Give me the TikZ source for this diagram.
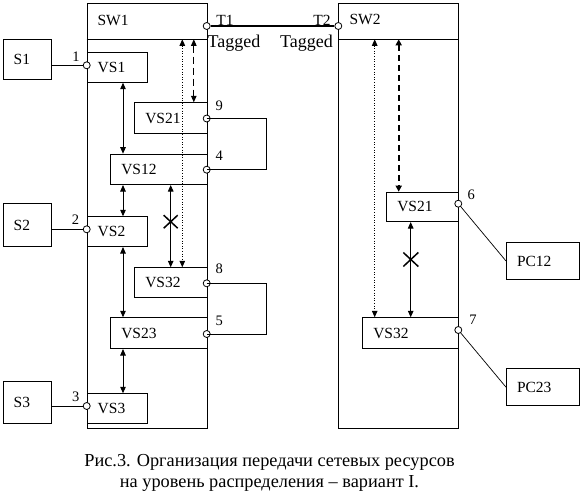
\documentclass[tikz,border=0pt]{standalone}
\usepackage{fontspec}
\setmainfont{Liberation Serif}
\usetikzlibrary{arrows.meta,calc}
\begin{document}
\begin{tikzpicture}[x=1pt,y=-1pt,
  every node/.style={font=\fontsize{15.5}{18}\selectfont},
  box/.style={draw, line width=1pt, fill=white, anchor=north west, inner xsep=10.5pt, inner ysep=0pt, align=left},
  frame/.style={draw, line width=1pt, anchor=north west, inner sep=0pt},
  port/.style={circle, draw, line width=0.8pt, fill=white, inner sep=0pt, minimum size=7pt},
  num/.style={inner sep=0pt, font=\fontsize{14.5}{16}\selectfont},
  wire/.style={line width=1pt},
  tip/.style={{Triangle[width=5.5pt,length=6.5pt]}-{Triangle[width=5.5pt,length=6.5pt]}},
  link/.style={wire, tip},
  dotlink/.style={line width=1pt, dash pattern=on 1pt off 1.6pt, tip},
  dashlink/.style={line width=1pt, dash pattern=on 7pt off 4pt, tip},
  thickdash/.style={line width=2pt, dash pattern=on 6pt off 4pt, {Triangle[width=6pt,length=6pt]}-{Triangle[width=6pt,length=6pt]}},
  cross/.style={line width=1.5pt}
]
\useasboundingbox (0,0) rectangle (581,496);

% switches
\node[frame, minimum width=120pt, minimum height=424.7pt] (sw1) at (86.7,3.3) {};
\node[frame, minimum width=120pt, minimum height=425pt] (sw2) at (338.3,3.3) {};
\coordinate (h1) at (86.7,39.3);
\coordinate (h2) at (338.3,39.3);
\draw[wire] (h1) -- (h1 -| sw1.east);
\draw[wire] (h2) -- (h2 -| sw2.east);
\node[inner sep=0pt] (sw1lab) at (113,20.5) {SW1};
\node[inner sep=0pt] (sw2lab) at (365,19.5) {SW2};

% servers and PCs
\node[box, text width=27pt, minimum height=39.7pt] (s1) at (2.7,39.3) {S1};
\node[box, text width=27pt, minimum height=42.7pt] (s2) at (2.7,203.3) {S2};
\node[box, text width=27pt, minimum height=42.6pt] (s3) at (2.7,380.7) {S3};
\node[box, text width=51.7pt, minimum height=37.6pt] (pc12) at (506,241.7) {PC12};
\node[box, text width=51.7pt, minimum height=36.7pt] (pc23) at (506,368.3) {PC23};

% VLAN blocks in SW1
\node[box, text width=39pt, minimum height=29.4pt] (vs1) at (86.7,52.3) {VS1};
\node[box, text width=51.4pt, minimum height=31pt] (vs21a) at (134.3,102.3) {VS21};
\node[box, text width=75.4pt, minimum height=30.3pt] (vs12) at (110.3,153.7) {VS12};
\node[box, text width=39pt, minimum height=29.7pt] (vs2) at (86.7,216.3) {VS2};
\node[box, text width=51.4pt, minimum height=30pt] (vs32a) at (134.3,267.3) {VS32};
\node[box, text width=75.4pt, minimum height=30.7pt] (vs23) at (110.3,317.3) {VS23};
\node[box, text width=39pt, minimum height=30pt] (vs3) at (86.7,393.3) {VS3};

% VLAN blocks in SW2
\node[box, text width=51pt, minimum height=29.3pt] (vs21b) at (386.3,191.7) {VS21};
\node[box, text width=75pt, minimum height=31pt] (vs32b) at (362.3,317.3) {VS32};

% columns for vertical links
\coordinate (cA) at (123,0);
\coordinate (cX) at (170.7,0);
\coordinate (cDot) at (182.3,0);
\coordinate (cDash) at (193.8,0);
\coordinate (dDot) at (374.7,0);
\coordinate (dDash) at (398.7,0);
\coordinate (dX) at (410.7,0);

\draw[link] (cA |- vs1.south) -- (cA |- vs12.north);
\draw[link] (cA |- vs12.south) -- (cA |- vs2.north);
\draw[link] (cA |- vs2.south) -- (cA |- vs23.north);
\draw[link] (cA |- vs23.south) -- (cA |- vs3.north);
\draw[link] (cX |- vs12.south) -- (cX |- vs32a.north);
\draw[dotlink] (cDot |- h1) -- (cDot |- vs32a.north);
\draw[dashlink] (cDash |- h1) -- (cDash |- vs21a.north);

\draw[dotlink] (dDot |- h2) -- (dDot |- vs32b.north);
\draw[thickdash] (dDash |- h2) -- (dDash |- vs21b.north);
\draw[link] (dX |- vs21b.south) -- (dX |- vs32b.north);

% crosses
\coordinate (x1) at (170.7,221.7);
\coordinate (x2) at (410.8,259.5);
\draw[cross] ($(x1)+(-7,-6.5)$) -- ($(x1)+(7,6.5)$) ($(x1)+(-7,6.5)$) -- ($(x1)+(7,-6.5)$);
\draw[cross] ($(x2)+(-7.5,-7)$) -- ($(x2)+(7.5,7)$) ($(x2)+(-7.5,7)$) -- ($(x2)+(7.5,-7)$);

% ports
\draw[wire] (s1.east |- 0,65.3) -- (86.7,65.3) coordinate (p1c);
\draw[wire] (s2.east |- 0,229.3) -- (86.7,229.3) coordinate (p2c);
\draw[wire] (s3.east |- 0,406) -- (86.7,406) coordinate (p3c);
\node[port] (p1) at (p1c) {};
\node[port] (p2) at (p2c) {};
\node[port] (p3) at (p3c) {};
\node[port] (p9) at (206.7,118.5) {};
\node[port] (p4) at (206.7,169.7) {};
\node[port] (p8) at (206.7,283.3) {};
\node[port] (p5) at (206.7,334) {};
\coordinate (loopx) at (266.7,0);
\draw[wire] (p9.center) -- (p9.center -| loopx) |- (p4.center);
\draw[wire] (p8.center) -- (p8.center -| loopx) |- (p5.center);

\draw[line width=0.7pt] (458.3,203.7) -- (pc12.west);
\draw[line width=0.7pt] (458.3,330) -- (pc23.west);
\node[port] (p6) at (458.3,203.7) {};
\node[port] (p7) at (458.3,330) {};

% trunk
\node[port] (t1) at (206.7,26) {};
\node[port] (t2) at (338.3,26) {};
\draw[line width=2pt] (t1.east) -- (t2.west);
\node[inner sep=0pt] (t1lab) at (225,20.3) {T1};
\node[inner sep=0pt] (t2lab) at (322,20.3) {T2};
\node[inner sep=0pt, anchor=west, font=\fontsize{18}{20}\selectfont] (tag1) at (207.5,43) {Tagged};
\node[inner sep=0pt, anchor=east, font=\fontsize{18}{20}\selectfont] (tag2) at (333,43) {Tagged};

% port numbers
\node[num] (n1) at (76,57) {1};
\node[num] (n2) at (75.5,219.7) {2};
\node[num] (n3) at (75.7,396.7) {3};
\node[num] (n9) at (219.3,105.5) {9};
\node[num] (n4) at (219.3,155.8) {4};
\node[num] (n8) at (219.3,269) {8};
\node[num] (n5) at (219.3,320.8) {5};
\node[num] (n6) at (471.3,194.7) {6};
\node[num] (n7) at (473,320) {7};

% caption
\node[align=center, font=\fontsize{18.3}{20.5}\selectfont] (cap) at (269.5,473) {Рис.3. Организация передачи сетевых ресурсов\\на уровень распределения – вариант I.};
\end{tikzpicture}
\end{document}
